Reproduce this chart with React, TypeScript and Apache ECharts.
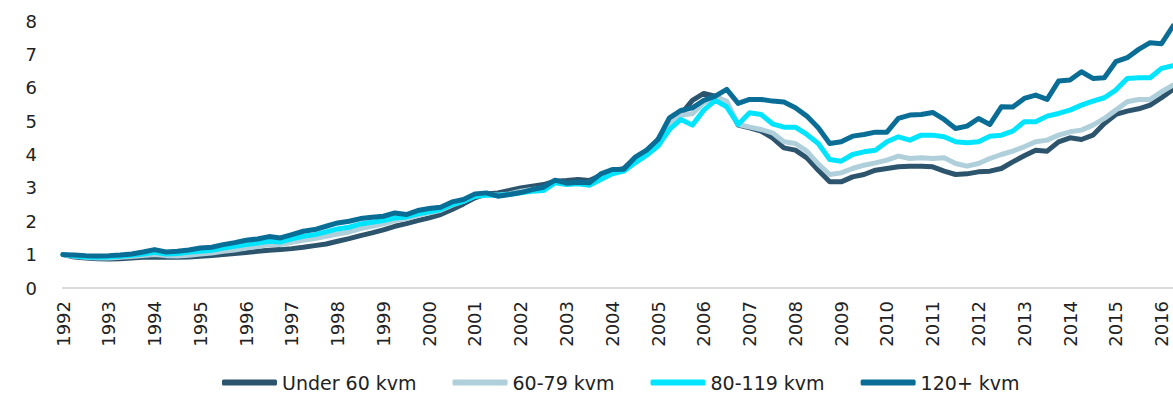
import React, { useEffect, useRef } from "react";
import * as echarts from "echarts";

const years = [
  1992, 1993, 1994, 1995, 1996, 1997, 1998, 1999, 2000, 2001, 2002, 2003,
  2004, 2005, 2006, 2007, 2008, 2009, 2010, 2011, 2012, 2013, 2014, 2015, 2016,
];
const quarters = ["K1", "K2", "K3", "K4"];
// 1992K1 .. 2016K2 (98 quarters)
const categories: string[] = [];
years.forEach((y) => quarters.forEach((q) => categories.push(`${y} ${q}`)));
categories.splice(98);

const under60 = [
  1.0, 0.93, 0.9, 0.88, 0.87, 0.88, 0.9, 0.92, 0.93, 0.92, 0.92, 0.93,
  0.95, 0.97, 1.0, 1.03, 1.06, 1.1, 1.13, 1.15, 1.18, 1.22, 1.27, 1.32,
  1.4, 1.48, 1.57, 1.65, 1.74, 1.85, 1.93, 2.02, 2.1, 2.2, 2.35, 2.52,
  2.7, 2.82, 2.85, 2.92, 3.0, 3.05, 3.1, 3.2, 3.22, 3.25, 3.22, 3.38,
  3.5, 3.58, 3.9, 4.1, 4.45, 5.0, 5.2, 5.62, 5.83, 5.75, 5.55, 4.88,
  4.8, 4.7, 4.5, 4.2, 4.13, 3.9, 3.53, 3.18, 3.18, 3.33, 3.4, 3.53,
  3.58, 3.63, 3.65, 3.65, 3.63, 3.5, 3.4, 3.42, 3.48, 3.5, 3.58, 3.78,
  3.96, 4.13, 4.1, 4.38, 4.5, 4.45, 4.58, 4.93, 5.2, 5.3, 5.37, 5.48,
  5.7, 5.95,
];
const s60to79 = [
  1.0, 0.95, 0.92, 0.9, 0.9, 0.92, 0.94, 0.97, 1.0, 0.97, 0.96, 0.98,
  1.02, 1.05, 1.1, 1.14, 1.2, 1.24, 1.3, 1.3, 1.37, 1.43, 1.48, 1.55,
  1.62, 1.68, 1.78, 1.85, 1.92, 2.02, 2.08, 2.18, 2.25, 2.33, 2.48, 2.6,
  2.75, 2.8, 2.78, 2.82, 2.9, 2.95, 3.0, 3.18, 3.12, 3.15, 3.15, 3.35,
  3.48, 3.55, 3.85, 4.05, 4.35, 4.95, 5.18, 5.22, 5.55, 5.72, 5.6, 4.9,
  4.82, 4.75, 4.65, 4.38, 4.33, 4.1, 3.72, 3.4, 3.45, 3.58, 3.68, 3.75,
  3.83, 3.95, 3.88, 3.9, 3.88, 3.9, 3.73, 3.65, 3.73, 3.88, 4.0, 4.1,
  4.23, 4.38, 4.43, 4.58, 4.68, 4.73, 4.88, 5.08, 5.33, 5.58, 5.65, 5.65,
  5.88, 6.08,
];
const s80to119 = [
  1.0, 0.96, 0.93, 0.92, 0.93, 0.95, 0.98, 1.02, 1.07, 1.02, 1.03, 1.07,
  1.1, 1.13, 1.2, 1.25, 1.3, 1.35, 1.4, 1.38, 1.47, 1.55, 1.6, 1.68,
  1.77, 1.82, 1.92, 1.97, 2.02, 2.1, 2.13, 2.22, 2.28, 2.35, 2.5, 2.6,
  2.75, 2.78, 2.78, 2.8, 2.85, 2.9, 2.92, 3.15, 3.1, 3.12, 3.08, 3.25,
  3.42, 3.5, 3.75, 3.98, 4.25, 4.75, 5.05, 4.88, 5.33, 5.62, 5.43, 4.9,
  5.25, 5.2, 4.92, 4.82, 4.82, 4.6, 4.33, 3.85, 3.8, 4.0, 4.08, 4.13,
  4.38, 4.53, 4.43, 4.58, 4.58, 4.53, 4.38, 4.35, 4.38, 4.55, 4.58, 4.7,
  4.98, 4.98, 5.15, 5.23, 5.33, 5.48, 5.6, 5.7, 5.93, 6.28, 6.3, 6.3,
  6.58, 6.66,
];
const s120plus = [
  1.0, 0.99, 0.97, 0.96, 0.97, 0.99, 1.02, 1.08, 1.15, 1.08, 1.1, 1.14,
  1.2, 1.22, 1.3, 1.36, 1.43, 1.47, 1.54, 1.5, 1.6, 1.7, 1.75, 1.85,
  1.95, 2.0, 2.08, 2.12, 2.15, 2.25, 2.2, 2.32, 2.38, 2.42, 2.58, 2.65,
  2.82, 2.85, 2.75, 2.8, 2.86, 2.95, 3.02, 3.23, 3.14, 3.17, 3.15, 3.42,
  3.55, 3.56, 3.92, 4.13, 4.45, 5.1, 5.32, 5.4, 5.62, 5.75, 5.95, 5.53,
  5.65, 5.65, 5.6, 5.57, 5.4, 5.15, 4.8, 4.33, 4.38, 4.55, 4.6, 4.67,
  4.67, 5.08, 5.18, 5.2, 5.26, 5.05, 4.78, 4.85, 5.08, 4.9, 5.43, 5.42,
  5.68, 5.78, 5.65, 6.2, 6.23, 6.48, 6.28, 6.3, 6.78, 6.9, 7.15, 7.35,
  7.32, 7.85,
];

const seriesNames = ["Under 60 kvm", "60-79 kvm", "80-119 kvm", "120+ kvm"];
const seriesData = [under60, s60to79, s80to119, s120plus];
const colors = ["#2D546D", "#AFCFDB", "#00E5FF", "#0A6D95"];
const yTicks = [0, 1, 2, 3, 4, 5, 6, 7, 8];

const FONT = "DejaVu Sans";

export default function App() {
  const ref = useRef<HTMLDivElement>(null);
  useEffect(() => {
    if (!ref.current) return;
    const chart = echarts.init(ref.current, undefined, { renderer: "svg" });
    chart.setOption({
      animation: false,
      textStyle: { fontFamily: FONT },
      grid: { left: 63, right: 0, top: 21, bottom: 107, containLabel: false },
      legend: {
        left: 222,
        top: 373,
        padding: 0,
        icon: "roundRect",
        itemWidth: 55,
        itemHeight: 6,
        itemGap: 36,
        data: seriesNames,
        textStyle: { fontFamily: FONT, fontSize: 19, color: "#222" },
      },
      xAxis: {
        type: "category",
        data: categories,
        boundaryGap: false,
        axisLine: { lineStyle: { color: "#d9d9d9", width: 2 } },
        axisTick: { show: false },
        axisLabel: {
          interval: 3,
          rotate: 90,
          margin: 13,
          fontSize: 18,
          color: "#222",
          fontFamily: FONT,
          formatter: (v: string) => v.slice(0, 4),
        },
        splitLine: { show: false },
      },
      yAxis: {
        type: "value",
        min: yTicks[0],
        max: yTicks[yTicks.length - 1],
        interval: 1,
        axisLine: { show: false },
        axisTick: { show: false },
        splitLine: { show: false },
        axisLabel: { fontSize: 18, color: "#222", margin: 26, fontFamily: FONT },
      },
      series: seriesNames.map((name, i) => ({
        name,
        type: "line",
        data: seriesData[i],
        symbol: "none",
        color: colors[i],
        lineStyle: { width: 5, color: colors[i], join: "round", cap: "round" },
      })),
    });
    return () => chart.dispose();
  }, []);
  return (
    <div
      ref={ref}
      style={{ position: "absolute", left: 0, top: 0, width: 1173, height: 395 }}
    />
  );
}
